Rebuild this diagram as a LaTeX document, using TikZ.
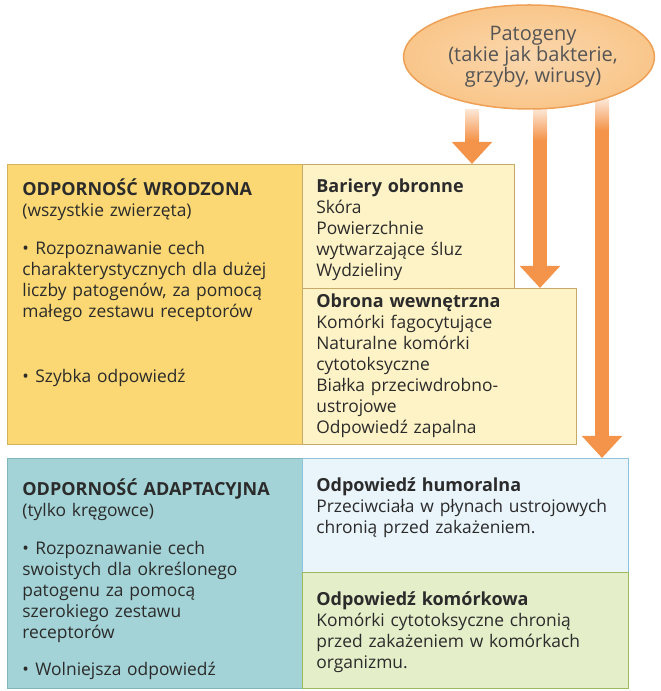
\documentclass[tikz,border=0pt]{standalone}
\usepackage{fontspec}
\setmainfont{Open Sans}
\usetikzlibrary{positioning,calc,arrows.meta,shapes.geometric}

\definecolor{wrodzona}{HTML}{FBD873}
\definecolor{wrodzonabrzeg}{HTML}{D2B25C}
\definecolor{jasnozolty}{HTML}{FEF3C6}
\definecolor{jasnozoltybrzeg}{HTML}{C6AA66}
\definecolor{adaptacyjna}{HTML}{A3D3D6}
\definecolor{adaptacyjnabrzeg}{HTML}{7FB5BB}
\definecolor{humoralna}{HTML}{E9F4FB}
\definecolor{humoralnabrzeg}{HTML}{8DC3DC}
\definecolor{komorkowa}{HTML}{E4EEC9}
\definecolor{komorkowabrzeg}{HTML}{9DBA5F}
\definecolor{strzalka}{HTML}{F4944A}
\definecolor{elipsa}{HTML}{F9C68A}
\definecolor{elipsabrzeg}{HTML}{EEA056}
\definecolor{tekst}{HTML}{2B2B2B}

\newcommand\blt{\hangindent=13pt\hangafter=1\noindent\makebox[13pt][l]{\textbullet}}
\newcommand\hd[1]{{\fontsize{18}{21}\selectfont\bfseries #1}}
\newcommand\el{\hspace*{8pt}}

\tikzset{every picture/.style={line width=0.75pt}}
\tikzset{
  box/.style={draw, line width=1.2pt, anchor=north west, inner sep=0pt},
  txt/.style={anchor=base west, align=left, inner sep=0pt, text=tekst,
              font=\fontsize{17.4}{21}\selectfont},
  patarrow/.style={line width=14pt, draw=strzalka,
                   -{Triangle[width=39pt,length=22pt]}},
}

\begin{document}
\begin{tikzpicture}[x=1pt,y=1pt]
  \useasboundingbox (0,0) rectangle (661,691);

  % --- Odporność wrodzona ---
  \node[box, fill=wrodzona, draw=wrodzonabrzeg,
        minimum width=295pt, minimum height=280pt] (wro) at (7,527) {};
  \node[box, fill=jasnozolty, draw=jasnozoltybrzeg,
        minimum width=212pt, minimum height=124pt] (bar) at (302,527) {};
  \node[box, fill=jasnozolty, draw=jasnozoltybrzeg,
        minimum width=274pt, minimum height=156pt] (obr) at (302,403) {};

  \node[txt, text width=278pt] (wrot) at ($(wro.north west)+(15,-32)$)
    {\hd{ODPORNOŚĆ WRODZONA}\\(wszystkie zwierzęta)\par\vspace{17pt}
     \blt Rozpoznawanie cech\\charakterystycznych dla dużej\\liczby patogenów, za pomocą\\małego zestawu receptorów\par\vspace{44pt}
     \blt Szybka odpowiedź};
  \node[txt, text width=200pt] (bart) at ($(bar.north west)+(14,-29)$)
    {\hd{Bariery obronne}\\Skóra\\Powierzchnie\\wytwarzające śluz\\Wydzieliny};
  \node[txt, text width=258pt] (obrt) at ($(obr.north west)+(14,-20)$)
    {\hd{Obrona wewnętrzna}\\Komórki fagocytujące\\Naturalne komórki\\cytotoksyczne\\Białka przeciwdrobno-\\ustrojowe\\Odpowiedź zapalna};

  % --- Odporność adaptacyjna ---
  \node[box, fill=adaptacyjna, draw=adaptacyjnabrzeg,
        minimum width=295pt, minimum height=230pt] (ada) at (7,233) {};
  \node[box, fill=humoralna, draw=humoralnabrzeg,
        minimum width=326pt, minimum height=114pt] (hum) at (302,233) {};
  \node[box, fill=komorkowa, draw=komorkowabrzeg,
        minimum width=326pt, minimum height=116pt] (kom) at (302,119) {};

  \node[txt, text width=278pt] (adat) at ($(ada.north west)+(15,-38)$)
    {\hd{ODPORNOŚĆ ADAPTACYJNA}\\(tylko kręgowce)\par\vspace{17pt}
     \blt Rozpoznawanie cech\\swoistych dla określonego\\patogenu za pomocą\\szerokiego zestawu\\receptorów\par\vspace{16pt}
     \blt Wolniejsza odpowiedź};
  \node[txt, text width=318pt] (humt) at ($(hum.north west)+(14,-34)$)
    {\hd{Odpowiedź humoralna}\\Przeciwciała w płynach ustrojowych\\chronią przed zakażeniem.};
  \node[txt, text width=318pt] (komt) at ($(kom.north west)+(14,-34)$)
    {\hd{Odpowiedź komórkowa}\\Komórki cytotoksyczne chronią\\przed zakażeniem w komórkach\\organizmu.};

  % --- Patogeny i strzałki ---
  \coordinate (a1) at (472,581);
  \coordinate (a2) at (540,581);
  \coordinate (a3) at (602,591);
  \draw[patarrow] (a1) -- (bar.north -| a1);
  \draw[patarrow] (a2) -- (obr.north -| a2);
  \draw[patarrow] (a3) -- (hum.north -| a3);
  \foreach \a in {a1,a2,a3}
    \shade[top color=strzalka!25, bottom color=strzalka]
      ($(\a)+(-7,0)$) rectangle ($(\a)+(7,-30)$);

  \node[ellipse, draw=elipsabrzeg, line width=1.5pt, inner sep=0pt,
        inner color=elipsa!70, outer color=elipsa,
        minimum width=245pt, minimum height=104pt, align=center,
        text=tekst!80, font=\fontsize{20}{21}\selectfont] (pat) at (529,634)
    {\el Patogeny\\\el(takie jak bakterie,\\\el grzyby, wirusy)};
\end{tikzpicture}
\end{document}
